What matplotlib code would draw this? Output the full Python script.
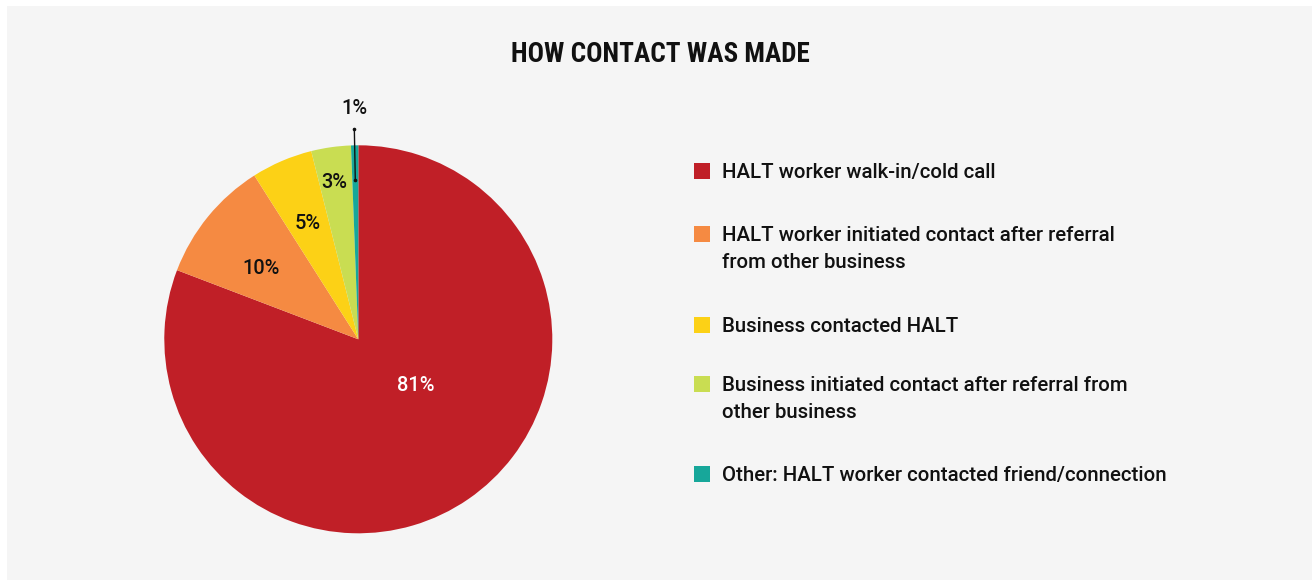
import matplotlib
matplotlib.use("Agg")
import matplotlib.pyplot as plt
import numpy as np
from matplotlib.patches import Rectangle

# ---- data ----
categories = [
    "HALT worker walk-in/cold call",
    "HALT worker initiated contact after referral\nfrom other business",
    "Business contacted HALT",
    "Business initiated contact after referral from\nother business",
    "Other: HALT worker contacted friend/connection",
]
values = [80.8, 10.2, 5.1, 3.3, 0.6]
colors = ["#C01F27", "#F58A42", "#FCD116", "#C9DD52", "#17A79A"]
title = "HOW CONTACT WAS MADE"

# ---- style / layout ----
W, H = 1312, 580
BG = "#F5F5F5"
TXT = "#111111"
body_font = ["Roboto", "DejaVu Sans"]
title_font = ["Roboto Condensed", "Liberation Sans Narrow", "DejaVu Sans"]

fig = plt.figure(figsize=(W / 100, H / 100), dpi=100)
fig.patch.set_facecolor("white")
fig.add_artist(Rectangle((7 / W, 0), 1 - 7 / W, 1 - 6 / H, transform=fig.transFigure,
                         facecolor=BG, edgecolor="none", zorder=0))

# pie axes: center (358.3, 339.3) px, radius 194 px
cx, cy, R = 358.3, 339.3, 194
ax = fig.add_axes([(cx - R) / W, 1 - (cy + R) / H, 2 * R / W, 2 * R / H])
ax.set_facecolor("none")
wedges, _ = ax.pie(values, colors=colors, startangle=90, counterclock=False,
                   radius=1, wedgeprops=dict(linewidth=0))
ax.set_xlim(-1, 1)
ax.set_ylim(-1, 1)
ax.set_aspect("equal")
ax.axis("off")

# label placement (radius fraction, angle offset in degrees) per wedge
label_r = [0.38, 0.62, 0.65, 0.82]
label_off = [16.5, 3.0, 0.4, 0.6]
label_col = ["white", TXT, TXT, TXT]
for i, w in enumerate(wedges):
    mid = np.deg2rad((w.theta1 + w.theta2) / 2)
    txt = f"{values[i]:.0f}%"
    if i < 4:
        a = mid + np.deg2rad(label_off[i])
        ax.text(label_r[i] * np.cos(a), label_r[i] * np.sin(a), txt,
                ha="center", va="center", fontsize=14.4, color=label_col[i],
                family=body_font, fontweight="medium")
    else:
        r0, r1 = 0.82, 1.083
        ax.plot([r0 * np.cos(mid), r1 * np.cos(mid)], [r0 * np.sin(mid), r1 * np.sin(mid)],
                color=TXT, lw=1.0, marker="o", ms=1.6, clip_on=False)
        ax.text(1.19 * np.cos(mid), 1.19 * np.sin(mid), txt, ha="center", va="center",
                fontsize=14.4, color=TXT, family=body_font, fontweight="medium")

# title
fig.text(660 / W, 1 - 54 / H, title, ha="center", va="center", fontsize=19.5,
         fontweight="bold", color=TXT, family=title_font)

# legend (manual)
row_y = [171, 234, 325, 384, 474]
sq = 16
for lab, col, y in zip(categories, colors, row_y):
    fig.add_artist(Rectangle((694 / W, 1 - (y + sq / 2) / H), sq / W, sq / H,
                             transform=fig.transFigure, facecolor=col, edgecolor="none"))
    fig.text(722.5 / W, 1 - (y - 8.3) / H, lab, ha="left", va="top", fontsize=14.65,
             color=TXT, family=body_font, fontweight="medium", linespacing=1.56)

fig.savefig("out.png", dpi=100, facecolor=fig.get_facecolor())
